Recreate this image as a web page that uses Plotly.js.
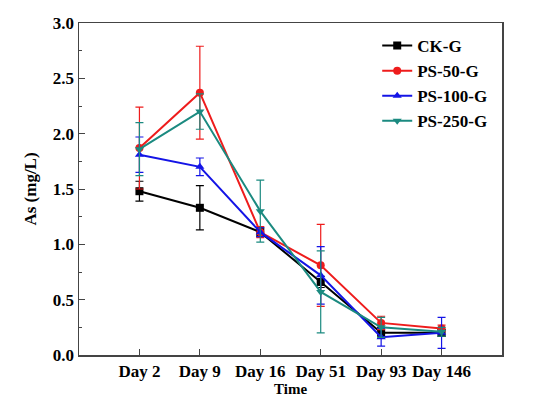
<!DOCTYPE html>
<html>
<head>
<meta charset="utf-8">
<script src="https://cdn.plot.ly/plotly-3.0.1.min.js"></script>
<style>html,body{margin:0;padding:0;background:#fff;}#chart{width:539px;height:398px;}</style>
</head>
<body>
<div id="chart"></div>
<script>
var days = ["Day 2", "Day 9", "Day 16", "Day 51", "Day 93", "Day 146"];
var seriesNames = ["CK-G", "PS-50-G", "PS-100-G", "PS-250-G"];
var ckG = [1.48, 1.33, 1.11, 0.66, 0.20, 0.20];
var ckGErr = [0.09, 0.20, 0.04, 0.05, 0.05, 0.03];
var ps50G = [1.87, 2.37, 1.11, 0.81, 0.29, 0.24];
var ps50GErr = [0.37, 0.42, 0.05, 0.37, 0.06, 0.03];
var ps100G = [1.81, 1.70, 1.11, 0.72, 0.16, 0.20];
var ps100GErr = [0.16, 0.08, 0.04, 0.26, 0.08, 0.14];
var ps250G = [1.86, 2.20, 1.30, 0.57, 0.25, 0.21];
var ps250GErr = [0.24, 0.16, 0.28, 0.37, 0.09, 0.04];
var yTickVals = [0, 0.5, 1.0, 1.5, 2.0, 2.5, 3.0];
var xTitle = "Time";

var colors = ["#000000", "#ee1c1c", "#1414e6", "#1b8a80"];
var symbols = ["square", "circle", "triangle-up", "triangle-down"];
var vals = [ckG, ps50G, ps100G, ps250G];
var errs = [ckGErr, ps50GErr, ps100GErr, ps250GErr];

var xIdx = days.map(function(d, i){ return i; });
var traces = [];
for (var s = 0; s < 4; s++) {
  traces.push({
    x: xIdx, y: vals[s], name: seriesNames[s], type: "scatter", mode: "lines+markers",
    line: {color: colors[s], width: 2},
    marker: {symbol: symbols[s], size: 8, color: colors[s]},
    error_y: {type: "data", array: errs[s], visible: true, color: colors[s], thickness: 1.2, width: 4}
  });
}

var serif = "Liberation Serif, Times New Roman, serif";
var layout = {
  width: 539, height: 398,
  margin: {l: 79, r: 37, t: 23, b: 43},
  paper_bgcolor: "#fff", plot_bgcolor: "#fff",
  showlegend: true,
  font: {family: serif, size: 17, color: "#000"},
  legend: {x: 0.705, y: 0.985, xanchor: "left", yanchor: "top", bgcolor: "rgba(0,0,0,0)",
    font: {family: serif, size: 17, color: "#000", weight: "bold"},
    tracegroupgap: 0, itemwidth: 30},
  xaxis: {
    range: [-1, 6], tickvals: xIdx, ticktext: days,
    showgrid: false, zeroline: false,
    showline: true, linecolor: "#444", linewidth: 1.5, mirror: true,
    ticks: "inside", ticklen: 6, tickcolor: "#444",
    tickfont: {family: serif, size: 17, color: "#000", weight: "bold"}
  },
  yaxis: {
    range: [0, 3], tickvals: yTickVals, tickformat: ".1f",
    showgrid: false, zeroline: false,
    showline: true, linecolor: "#444", linewidth: 1.5, mirror: true,
    ticks: "inside", ticklen: 6, tickcolor: "#444",
    minor: {ticks: "inside", dtick: 0.25, ticklen: 3, tickcolor: "#444", showgrid: false},
    tickfont: {family: serif, size: 17, color: "#000", weight: "bold"},
    title: {text: "As (mg/L)", font: {family: serif, size: 17, color: "#000", weight: "bold"}, standoff: 12}
  },
  annotations: [{
    text: xTitle, xref: "paper", yref: "paper", x: 0.5, y: -0.073,
    xanchor: "center", yanchor: "top", showarrow: false,
    font: {family: serif, size: 15, color: "#000", weight: "bold"}
  }]
};
Plotly.newPlot("chart", traces, layout, {displayModeBar: false, staticPlot: true});
</script>
</body>
</html>
